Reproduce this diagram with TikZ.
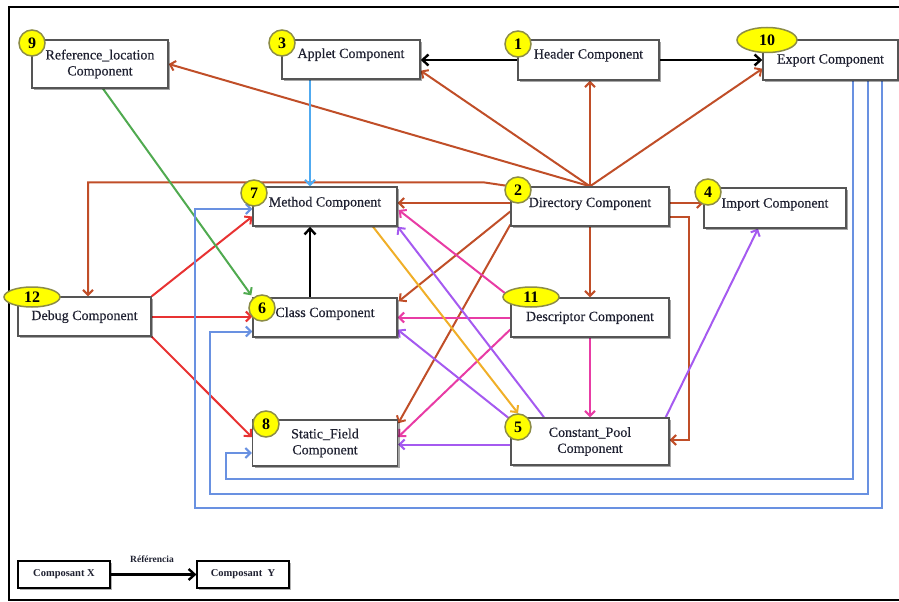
\documentclass[tikz,border=0pt]{standalone}
\usepackage{fontspec}
\setmainfont{Liberation Serif}
\newfontfamily\compfont{Liberation Serif}[FakeBold=0.35]
\usetikzlibrary{arrows.meta,shadows,shapes.geometric,calc}
\pgfdeclarelayer{background}
\pgfsetlayers{background,main}
\definecolor{boxgray}{RGB}{85,85,85}
\definecolor{txt}{RGB}{30,32,48}
\definecolor{badgeline}{RGB}{140,140,70}
\definecolor{badgefill}{RGB}{255,255,0}
\definecolor{rust}{RGB}{192,78,40}
\definecolor{redc}{RGB}{232,50,50}
\definecolor{skyc}{RGB}{80,170,240}
\definecolor{greenc}{RGB}{80,170,80}
\definecolor{cornc}{RGB}{105,145,225}
\definecolor{pinkc}{RGB}{232,60,165}
\definecolor{purpc}{RGB}{165,90,240}
\definecolor{orangec}{RGB}{240,175,40}
\newcommand\liftby[2]{\raisebox{#1pt}{#2}}
\tikzset{
  comp/.style={draw=boxgray, line width=1.4pt, fill=white, inner sep=0pt,
    drop shadow={shadow xshift=2pt, shadow yshift=-2pt, opacity=0.35, fill=black},
    font=\compfont\fontsize{14}{16}\selectfont, text=txt},
  compone/.style={comp, text height=10pt, text depth=3pt},
  comptwo/.style={comp, align=center},
  legendbox/.style={draw=black, line width=1.2pt, fill=white, inner sep=0pt,
    drop shadow={shadow xshift=2pt, shadow yshift=-2pt, opacity=0.3, fill=black},
    minimum width=92pt, minimum height=27pt, font=\fontsize{10.5}{12}\selectfont\bfseries, text=txt},
  badge/.style={circle, fill=badgefill, draw=badgeline, line width=1.5pt, minimum size=26pt,
    inner sep=0pt, font=\fontsize{16}{16}\selectfont\bfseries, text=black},
  badgeov/.style={ellipse, fill=badgefill, draw=badgeline, line width=1.5pt, inner sep=0pt,
    font=\fontsize{16}{16}\selectfont\bfseries, text=black},
  conn/.style={line width=2pt, -{Straight Barb[length=5pt,width=10pt]}},
  bconn/.style={line width=2.4pt, -{Straight Barb[length=6pt,width=11pt]}},
}
\begin{document}
\begin{tikzpicture}[x=1pt,y=-1pt]
\useasboundingbox (0,0) rectangle (899,602);
% frame
\draw[line width=2.2pt] (899,7) -- (9,7) -- (9,600) -- (899,600);

% boxes
\node[comptwo, minimum width=136pt, minimum height=48pt] (ref) at (100,64) {Reference\_location\\Component};
\node[compone, minimum width=138pt, minimum height=39pt] (applet) at (351,59.5) {\liftby{5}{Applet Component}};
\node[compone, minimum width=141pt, minimum height=40pt] (header) at (588.5,60) {\liftby{5}{Header Component}};
\node[compone, minimum width=135pt, minimum height=40pt] (export) at (830.5,60) {\liftby{0}{Export Component}};
\node[compone, minimum width=144pt, minimum height=39pt] (method) at (325,206.5) {\liftby{3.5}{Method Component}};
\node[compone, minimum width=158pt, minimum height=39pt] (dir) at (590,206.5) {\liftby{3}{Directory Component}};
\node[compone, minimum width=142pt, minimum height=40pt] (import) at (775,208) {\liftby{4}{Import Component}};
\node[compone, minimum width=133pt, minimum height=39pt] (debug) at (84.5,316.5) {\liftby{0}{Debug Component}};
\node[compone, minimum width=144pt, minimum height=39pt] (class) at (325,317.5) {\liftby{4}{Class Component}};
\node[compone, minimum width=158pt, minimum height=39pt] (desc) at (590,317.5) {\liftby{0}{Descriptor Component}};
\node[comptwo, minimum width=145pt, minimum height=46pt] (static) at (325,443) {Static\_Field\\Component};
\node[comptwo, minimum width=158pt, minimum height=47pt] (cpool) at (590,441.5) {Constant\_Pool\\Component};

% legend
\node[legendbox] (cx) at (64,574.5) {Composant X};
\node[legendbox] (cy) at (243,574.5) {Composant\ \ Y};
\node[font=\fontsize{9.5}{11}\selectfont\bfseries, text=txt] (reflabel) at (152,559) {Référencia};

% badges
\node[badge] (b9) at (32,43) {9};
\node[badge] (b3) at (282,43) {3};
\node[badge] (b1) at (518,44) {1};
\node[badgeov, minimum width=60pt, minimum height=25pt] (b10) at (767,40) {10};
\node[badge] (b7) at (254,193) {7};
\node[badge] (b2) at (518,190) {2};
\node[badge] (b4) at (708,192) {4};
\node[badgeov, minimum width=56pt, minimum height=20pt] (b12) at (32,297) {12};
\node[badge] (b6) at (262,308) {6};
\node[badgeov, minimum width=56pt, minimum height=20pt] (b11) at (531,297) {11};
\node[badge] (b8) at (266,424) {8};
\node[badge] (b5) at (518,427) {5};

\begin{pgfonlayer}{background}
% black
\draw[bconn] (header.west) -- (header.west -| applet.east);
\draw[bconn] (header.east) -- (export.west);
\draw[bconn] ($(class.north)+(-15,0)$) -- ($(method.south)+(-15,0)$);
\draw[bconn] (cx.east) -- (cy.west);
% rust from Directory
\draw[conn, rust] (dir.north) -- (ref.east);
\draw[conn, rust] (dir.north) -- ($(applet.south east)+(0,-9)$);
\draw[conn, rust] (dir.north) -- (dir.north |- header.south);
\draw[conn, rust] (dir.north) -- ($(export.south west)+(0,-12)$);
\draw[conn, rust] ($(dir.west)+(0,-3.5)$) -- ($(method.east)+(0,-3.5)$);
\draw[conn, rust] (dir.north west) -- ++(-27,-4) -| ($(debug.north)+(3.5,0)$);
\draw[conn, rust] ($(dir.west)+(0,5)$) -- ($(class.north east)+(1,4)$);
\draw[conn, rust] ($(dir.south west)+(0,-2)$) -- ($(static.north east)+(0,4)$);
\draw[conn, rust] (dir.south) -- (desc.north);
\draw[conn, rust] ($(dir.east)+(0,-3.5)$) -- ($(import.west)+(0,-5)$);
\draw[conn, rust] ($(dir.east)+(0,10)$) -- ++(19,0) |- ($(cpool.east)+(0,-1.5)$);
% red from Debug
\draw[conn, redc] (debug.north east) -- ($(method.west)+(0,10)$);
\draw[conn, redc] (debug.east) -- (debug.east -| class.west);
\draw[conn, redc] (debug.south east) -- ($(static.west)+(0,-6)$);
% sky blue
\draw[conn, skyc] ($(applet.south)+(-41,0)$) -- ($(method.north)+(-15,0)$);
% green
\draw[conn, greenc] ($(ref.south)+(3,0)$) -- ($(class.north west)+(-1,-2)$);
% cornflower from Export
\draw[conn, cornc] ($(export.south)+(22.5,0)$) |- (226,479) |- ($(static.west)+(0,10)$);
\draw[conn, cornc] ($(export.south)+(37.5,0)$) |- (210,494) |- ($(class.west)+(0,14)$);
\draw[conn, cornc] ($(export.south)+(51.5,0)$) |- (195,508) |- ($(method.west)+(0,2.5)$);
% pink from Descriptor
\draw[conn, pinkc] (desc.north west) -- ($(method.east)+(1,3.5)$);
\draw[conn, pinkc] (desc.west) -- (class.east);
\draw[conn, pinkc] ($(desc.west)+(0,12)$) -- ($(static.east)+(0,-6)$);
\draw[conn, pinkc] (desc.south) -- (cpool.north);
% purple from Constant_Pool
\draw[conn, purpc] ($(cpool.north)+(-46,0)$) -- (method.south east);
\draw[conn, purpc] ($(cpool.north west)+(0,2)$) -- ($(class.south east)+(0,-8)$);
\draw[conn, purpc] ($(cpool.west)+(0,3)$) -- ($(static.east)+(0,1.5)$);
\draw[conn, purpc] ($(cpool.north east)+(-4,0)$) -- ($(import.south)+(-17,0)$);
% orange
\draw[conn, orangec] ($(method.south)+(48,0)$) -- (b5.north);
\end{pgfonlayer}
\end{tikzpicture}
\end{document}
